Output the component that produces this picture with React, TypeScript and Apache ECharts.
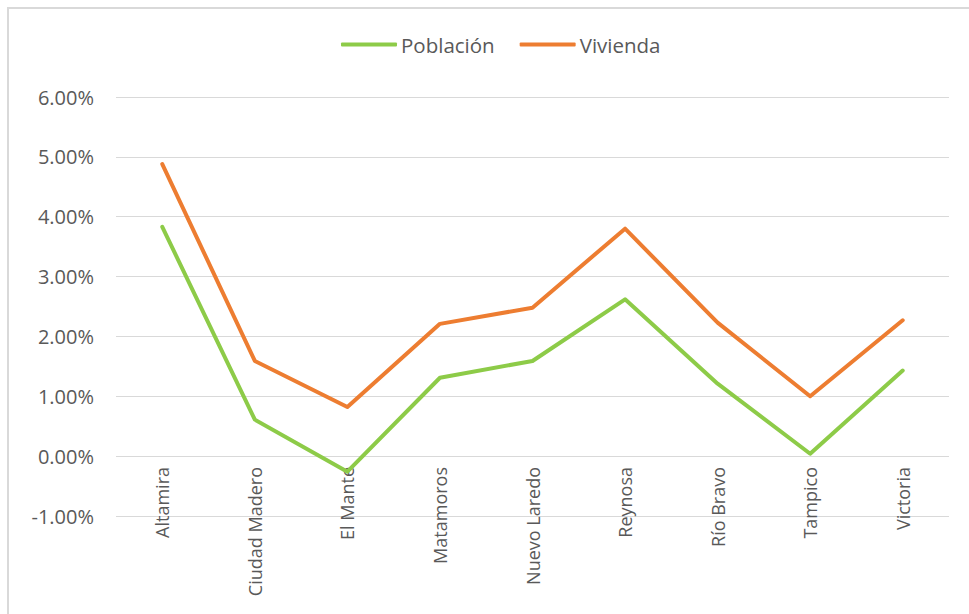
import React, { useEffect, useRef } from "react";
import * as echarts from "echarts";

const categories = [
  "Altamira",
  "Ciudad Madero",
  "El Mante",
  "Matamoros",
  "Nuevo Laredo",
  "Reynosa",
  "Río Bravo",
  "Tampico",
  "Victoria",
];
const poblacion = [3.83, 0.61, -0.26, 1.31, 1.59, 2.62, 1.21, 0.04, 1.43];
const vivienda = [4.88, 1.59, 0.82, 2.21, 2.48, 3.8, 2.23, 1.0, 2.27];
const yMin = -1;
const yMax = 6;
const yStep = 1;

const FONT = "'Open Sans', sans-serif";
const TEXT = "#595959";

export default function App() {
  const ref = useRef<HTMLDivElement>(null);
  useEffect(() => {
    if (!ref.current) return;
    const chart = echarts.init(ref.current, null, { renderer: "svg" });
    chart.setOption({
      animation: false,
      backgroundColor: "#ffffff",
      textStyle: { fontFamily: FONT },
      graphic: [
        {
          type: "rect",
          shape: { x: 8, y: 8, width: 1100, height: 800 },
          style: { fill: "none", stroke: "#D9D9D9", lineWidth: 2 },
          silent: true,
        },
      ],
      legend: {
        top: 29,
        left: 336,
        itemWidth: 56,
        itemHeight: 4,
        itemGap: 25,
        icon: "roundRect",
        textStyle: { fontSize: 20.5, color: TEXT, fontFamily: FONT, padding: [0, 0, 0, -1] },
        data: ["Población", "Vivienda"],
      },
      grid: {
        left: 116,
        right: 20,
        top: 97,
        bottom: 98,
        containLabel: false,
        outerBoundsMode: "none",
      },
      xAxis: {
        type: "category",
        data: categories,
        boundaryGap: true,
        offset: -60,
        axisLine: { show: false, onZero: false },
        axisTick: { show: false },
        axisLabel: {
          rotate: 90,
          fontSize: 18,
          color: TEXT,
          fontFamily: FONT,
          margin: 11,
          interval: 0,
        },
      },
      yAxis: {
        type: "value",
        min: yMin,
        max: yMax,
        interval: yStep,
        axisLine: { show: false },
        axisTick: { show: false },
        splitLine: { lineStyle: { color: "#D9D9D9", width: 1 } },
        axisLabel: {
          fontSize: 20,
          color: TEXT,
          fontFamily: FONT,
          margin: 22,
          formatter: (v: number) => v.toFixed(2) + "%",
        },
      },
      series: [
        {
          name: "Población",
          type: "line",
          data: poblacion,
          symbol: "none",
          lineStyle: { color: "#8DCB48", width: 4, cap: "round", join: "round" },
          itemStyle: { color: "#8DCB48" },
        },
        {
          name: "Vivienda",
          type: "line",
          data: vivienda,
          symbol: "none",
          lineStyle: { color: "#ED7D31", width: 4, cap: "round", join: "round" },
          itemStyle: { color: "#ED7D31" },
        },
      ],
    });
    return () => chart.dispose();
  }, []);
  return (
    <div
      ref={ref}
      style={{ position: "fixed", left: 0, top: 0, width: 969, height: 614 }}
    />
  );
}
